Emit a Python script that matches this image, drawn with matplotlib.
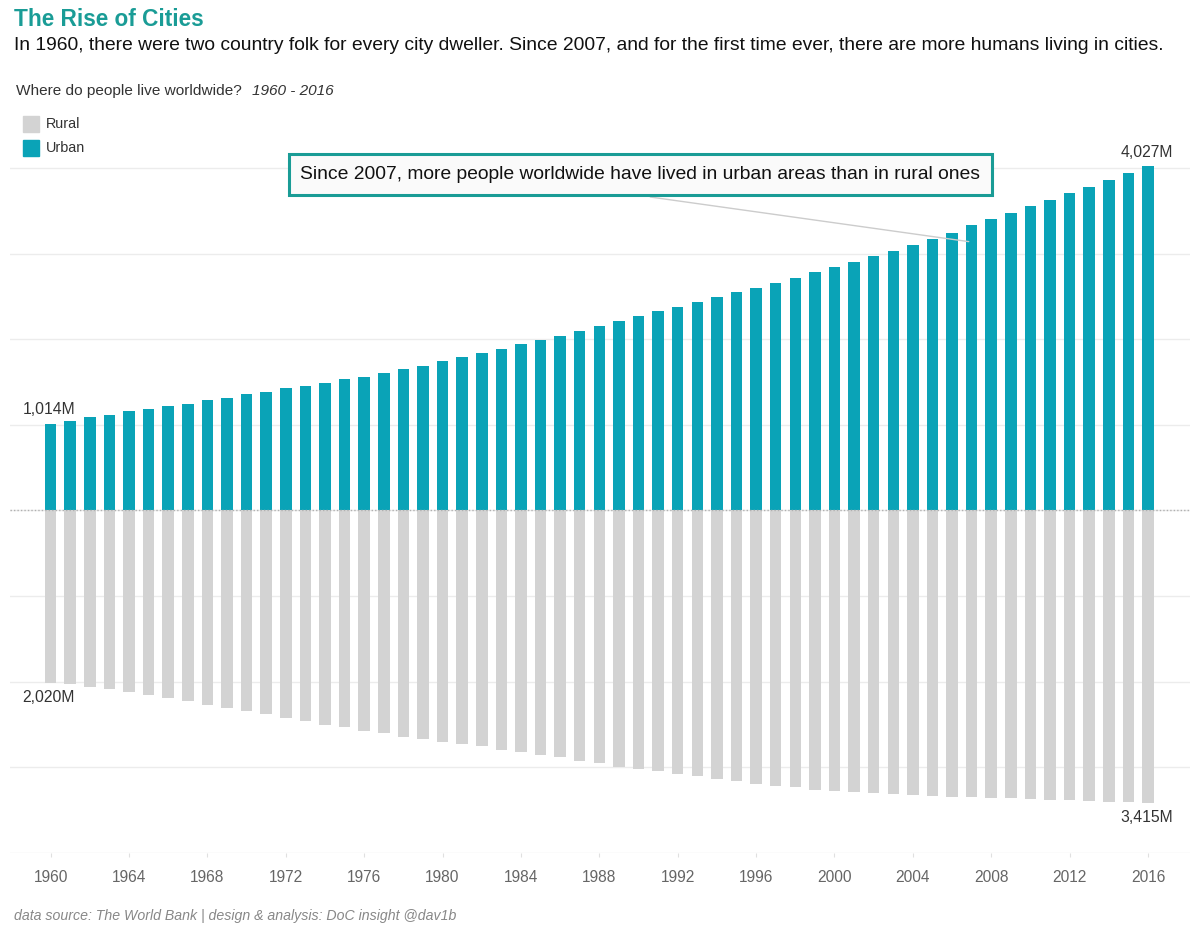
#!/usr/bin/env python

import numpy as np
import matplotlib
matplotlib.use('Agg')
import matplotlib.pyplot as plt
from matplotlib.patches import Rectangle

# ========================Data (millions, World Bank)==========================
years = np.arange(1960, 2017)
urban = [1014, 1046, 1088, 1116, 1157, 1185, 1215, 1239, 1285, 1313,
         1355, 1383, 1425, 1453, 1494, 1537, 1564, 1607, 1650, 1692,
         1746, 1789, 1843, 1889, 1944, 1987, 2040, 2099, 2153, 2208,
         2266, 2324, 2377, 2436, 2490, 2548, 2603, 2661, 2719, 2784,
         2842, 2897, 2967, 3036, 3106, 3176, 3245, 3330, 3400, 3469,
         3556, 3625, 3710, 3780, 3865, 3946, 4027]
rural = [2020, 2031, 2058, 2089, 2116, 2155, 2185, 2228, 2267, 2310,
         2341, 2379, 2422, 2464, 2507, 2533, 2573, 2603, 2646, 2669,
         2700, 2724, 2754, 2800, 2823, 2855, 2881, 2924, 2948, 2994,
         3021, 3048, 3079, 3106, 3133, 3160, 3191, 3218, 3234, 3261,
         3276, 3287, 3299, 3315, 3319, 3330, 3342, 3345, 3357, 3362,
         3373, 3377, 3385, 3388, 3400, 3400, 3415]
tick_years = np.arange(1960, 2017, 4)

# ========================Styles===============================================
W, H = 1200, 935
teal = '#0aa3b7'
title_teal = '#1a9c96'
grey_bar = '#d3d3d3'
plt.rcParams['font.family'] = ['Liberation Sans', 'DejaVu Sans']

def fx(px):
    return px / W

def fy(py):
    return 1 - py / H

fig = plt.figure(figsize=(12, 9.35), dpi=100)
ax = fig.add_axes([fx(10), fy(853), fx(1180), (853 - 150) / H])

ax.bar(years, urban, width=0.59, color=teal, zorder=2)
ax.bar(years, [-r for r in rural], width=0.59, color=grey_bar, zorder=2)

ax.set_xlim(1957.93, 2018.14)
ax.set_ylim(-4000, 4210)
ax.set_yticks(np.arange(-4000, 4001, 1000))
ax.set_yticklabels([])
ax.tick_params(axis='y', length=0)
ax.grid(axis='y', color='#ececec', lw=1, zorder=0)
ax.axhline(0, color='#b0b0b0', lw=1, ls=(0, (1, 1.5)), zorder=3)
for s in ax.spines.values():
    s.set_visible(False)
ax.set_xticks(tick_years)
ax.set_xticklabels([str(y) for y in tick_years])
ax.tick_params(axis='x', length=3, color='#e0e0e0', pad=9,
               labelsize=11.2, labelcolor='#666666')

# value labels at the ends
lab = dict(fontsize=11.3, color='#333333', textcoords='offset pixels')
ax.annotate('1,014M', (years[0], urban[0]), xytext=(-28, 14), ha='left', va='center', **lab)
ax.annotate('2,020M', (years[0], -rural[0]), xytext=(-28, -14), ha='left', va='center', **lab)
ax.annotate('4,027M', (years[-1], urban[-1]), xytext=(-1, 13), ha='center', va='center', **lab)
ax.annotate('3,415M', (years[-1], -rural[-1]), xytext=(-1, -15), ha='center', va='center', **lab)

# call-out box and its leader line
ax.annotate('', xy=(2006.85, 3140), xytext=(1990.6, 3661),
            arrowprops=dict(arrowstyle='-', color='#cccccc', lw=1,
                            shrinkA=0, shrinkB=0), zorder=4)
ax.text(1990.1, 3924,
        'Since 2007, more people worldwide have lived in urban areas than in rural ones',
        ha='center', va='center', fontsize=13.85, color='#111111',
        bbox=dict(boxstyle='square,pad=0.62', fc='#fafafa', ec=title_teal, lw=2.2),
        zorder=5)

# ========================Titles, legend, footer===============================
fig.text(fx(14), fy(20), 'The Rise of Cities', fontsize=16.3, fontweight='bold',
         color=title_teal, va='center')
fig.text(fx(14), fy(45), 'In 1960, there were two country folk for every city dweller. '
         'Since 2007, and for the first time ever, there are more humans living in cities.',
         fontsize=13.9, color='#111111', va='center')
fig.text(fx(16), fy(91), 'Where do people live worldwide?', fontsize=11.1,
         color='#333333', va='center')
fig.text(fx(252), fy(91), '1960 - 2016', fontsize=11.1, style='italic',
         color='#333333', va='center')

for i, (name, col) in enumerate([('Rural', grey_bar), ('Urban', teal)]):
    top = 116 + i * 24
    fig.add_artist(Rectangle((fx(23), fy(top + 16)), fx(16), 16 / H,
                             transform=fig.transFigure, color=col))
    fig.text(fx(46), fy(top + 8), name, fontsize=10.4, color='#333333', va='center')

fig.text(fx(14), fy(916), 'data source: The World Bank | design & analysis: DoC insight @dav1b',
         fontsize=10.2, style='italic', color='#888888', va='center')

plt.savefig('out.png', dpi=100)
